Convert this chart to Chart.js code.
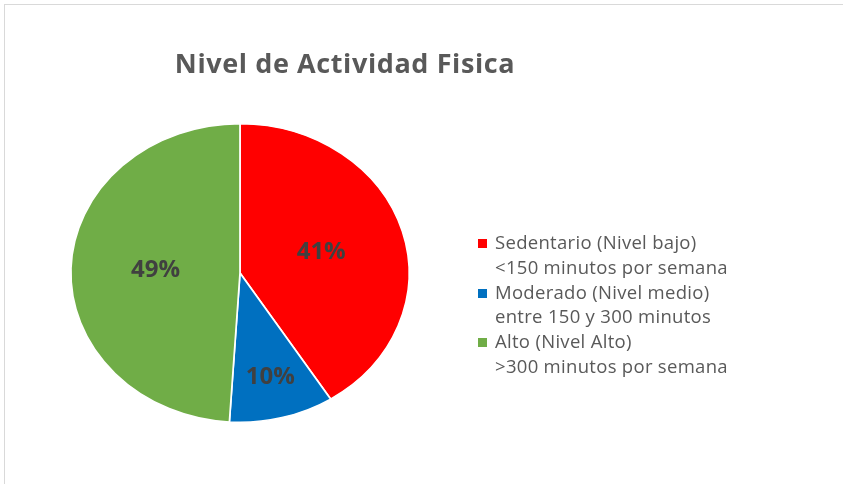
<!DOCTYPE html>
<html>
<head>
<meta charset="utf-8">
<script src="https://cdn.jsdelivr.net/npm/chart.js@4/dist/chart.umd.min.js"></script>
<style>
  body { margin: 0; background: #fff; width: 843px; height: 484px; overflow: hidden; position: relative; font-family: "Open Sans", sans-serif; }
  #frame { position: absolute; left: 4px; top: 4px; width: 900px; height: 600px; border: 1px solid #d9d9d9; box-sizing: border-box; }
  #title { position: absolute; left: 0; width: 690px; top: 44px; text-align: center; font-size: 27px; letter-spacing: 0.6px; font-weight: bold; color: #595959; }
  #chartBox { position: absolute; left: 0; top: 0; width: 843px; height: 484px; }
  #legend { position: absolute; left: 476px; top: 230px; color: #595959; font-size: 18.5px; letter-spacing: 0.3px; line-height: 24.8px; }
  .item { position: relative; padding-left: 19px; }
  .box { position: absolute; left: 2px; top: 9px; width: 9px; height: 9px; }
</style>
</head>
<body>
<div id="frame"></div>
<div id="chartBox"><canvas id="pie" width="843" height="484"></canvas></div>
<div id="title">Nivel de Actividad Fisica</div>
<div id="legend"></div>
<script>
const categories = ['Sedentario (Nivel bajo)', 'Moderado (Nivel medio)', 'Alto (Nivel Alto)'];
const subLabels = ['<150 minutos por semana', 'entre 150 y 300 minutos', '>300 minutos por semana'];
const values = [41, 10, 49];
const colors = ['#ff0000', '#0070c0', '#70ad47'];
const labelRadius = [0.5, 0.72, 0.5];

// slight horizontal stretch like the original (excel oval)
const stretchX = 1.133;

const ovalPlugin = {
    id: 'oval',
    beforeDatasetsDraw(chart) {
        const arc = chart.getDatasetMeta(0).data[0];
        const ctx = chart.ctx;
        ctx.save();
        ctx.translate(arc.x, arc.y);
        ctx.scale(stretchX, 1);
        ctx.translate(-arc.x, -arc.y);
    },
    afterDatasetsDraw(chart) {
        chart.ctx.restore();
        // percentage labels
        const ctx = chart.ctx;
        const meta = chart.getDatasetMeta(0);
        const total = values.reduce((a, b) => a + b, 0);
        ctx.save();
        ctx.font = 'bold 24px "Open Sans", sans-serif';
        ctx.fillStyle = '#404040';
        ctx.textAlign = 'center';
        ctx.textBaseline = 'middle';
        meta.data.forEach((arc, i) => {
            const mid = (arc.startAngle + arc.endAngle) / 2;
            const r = arc.outerRadius * labelRadius[i];
            const x = arc.x + Math.cos(mid) * r * stretchX;
            const y = arc.y + Math.sin(mid) * r;
            ctx.fillText(Math.round(values[i] / total * 100) + '%', x, y);
        });
        ctx.restore();
    }
};

new Chart(document.getElementById('pie'), {
    type: 'pie',
    data: {
        labels: categories,
        datasets: [{
            data: values,
            backgroundColor: colors,
            borderColor: '#ffffff',
            borderWidth: 1.5
        }]
    },
    options: {
        responsive: false,
        animation: false,
        layout: { padding: { left: 90, right: 453, top: 123, bottom: 61 } },
        plugins: {
            legend: { display: false },
            tooltip: { enabled: false }
        }
    },
    plugins: [ovalPlugin]
});

// legend (two-line labels)
const legendEl = document.getElementById('legend');
categories.forEach((c, i) => {
    const div = document.createElement('div');
    div.className = 'item';
    div.innerHTML = '<span class="box" style="background:' + colors[i] + '"></span>' + c + '<br>' + subLabels[i].replace('<', '&lt;').replace('>', '&gt;');
    legendEl.appendChild(div);
});
</script>
</body>
</html>
